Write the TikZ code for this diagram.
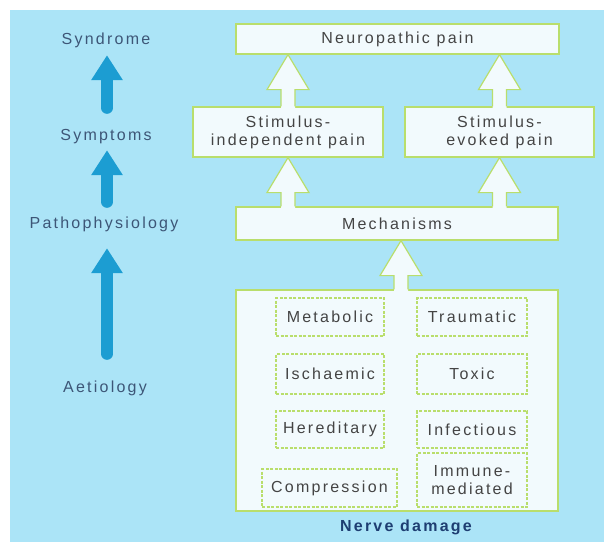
\documentclass[tikz,border=0pt]{standalone}
\usepackage{fontspec}
\setmainfont{Liberation Sans}[LetterSpace=14]
\usetikzlibrary{arrows.meta,calc}
\definecolor{bgblue}{HTML}{ABE4F7}
\definecolor{boxfill}{HTML}{F2FAFD}
\definecolor{boxline}{HTML}{B9DE6C}
\definecolor{arrblue}{HTML}{1C9DD2}
\definecolor{labcol}{HTML}{3D5677}
\definecolor{txtcol}{HTML}{444444}
\definecolor{navy}{HTML}{1E3E72}
\newcommand\harrow[2]{%
  \fill[boxfill] let \p1=#1, \p2=#2 in
    (\x1-7pt,\y1-1.5pt) -- (\x1-7pt,\y2-35pt) -- (\x1-21pt,\y2-35pt) -- (\x1,\y2) --
    (\x1+21pt,\y2-35pt) -- (\x1+7pt,\y2-35pt) -- (\x1+7pt,\y1-1.5pt) -- cycle;
  \draw[hollowline] let \p1=#1, \p2=#2 in
    (\x1-7pt,\y1) -- (\x1-7pt,\y2-35pt) -- (\x1-21pt,\y2-35pt) -- (\x1,\y2) --
    (\x1+21pt,\y2-35pt) -- (\x1+7pt,\y2-35pt) -- (\x1+7pt,\y1);}
\begin{document}
\begin{tikzpicture}[x=1pt,y=-1pt,
  every node/.style={font=\fontsize{16}{18}\selectfont, inner sep=0pt},
  outerbox/.style={draw=boxline, line width=1.2pt, fill=boxfill, text=txtcol, align=center},
  innerbox/.style={draw=boxline, line width=1.2pt, dash pattern=on 3pt off 1.5pt, fill=boxfill, text=txtcol, align=center},
  leftlab/.style={text=labcol, minimum height=20pt},
  bluearr/.style={draw=arrblue, line width=12pt, line cap=round, -{Triangle[width=30pt,length=25pt]}},
  hollowline/.style={draw=boxline, line width=1.2pt, line join=miter}]
\useasboundingbox (0,0) rectangle (604,542);
\fill[bgblue] (10,10) rectangle (604,542);

% left labels
\node[leftlab] (synd) at (106,40) {Syndrome};
\node[leftlab] (symp) at (106,137) {Symptoms};
\node[leftlab] (patho) at (104,224) {Pathophysiology};
\node[leftlab] (aet) at (105,388) {Aetiology};

\draw[bluearr, shorten <=19pt, shorten >=5pt] (symp.north -| 107,0) -- (synd.south -| 107,0);
\draw[bluearr, shorten <=12pt, shorten >=3pt] (patho.north -| 107,0) -- (symp.south -| 107,0);
\draw[bluearr, shorten <=24pt, shorten >=14pt] (aet.north -| 107,0) -- (patho.south -| 107,0);

% right boxes
\node[outerbox, minimum width=323pt, minimum height=30pt] (neuro) at (397.5,39) {Neuropathic pain};
\node[outerbox, minimum width=190pt, minimum height=50pt] (stimI) at (288,132) {Stimulus-\\independent pain};
\node[outerbox, minimum width=189pt, minimum height=50pt] (stimE) at (499.5,132) {Stimulus-\\evoked pain};
\node[outerbox, minimum width=322pt, minimum height=33pt] (mech) at (397,223.5) {Mechanisms};
\node[outerbox, minimum width=322pt, minimum height=221pt] (nerve) at (397,400.5) {};
\node[text=navy, font=\fontsize{16}{18}\selectfont\bfseries] (nlab) at (406,527) {Nerve damage};

\node[innerbox, minimum width=108pt, minimum height=38pt] (metab) at (330,317) {Metabolic};
\node[innerbox, minimum width=110pt, minimum height=38pt] (traum) at (472,317) {Traumatic};
\node[innerbox, minimum width=108pt, minimum height=40pt] (isch) at (330,374) {Ischaemic};
\node[innerbox, minimum width=110pt, minimum height=40pt] (toxic) at (472,374) {Toxic};
\node[innerbox, minimum width=108pt, minimum height=37pt] (hered) at (330,429.5) {Hereditary};
\node[innerbox, minimum width=110pt, minimum height=37pt] (infect) at (472,429.5) {Infectious};
\node[innerbox, minimum width=135pt, minimum height=38pt] (compr) at (329.5,488) {Compression};
\node[innerbox, minimum width=110pt, minimum height=54pt] (immune) at (472,480) {Immune-\\mediated};

% hollow arrows
\harrow{(stimI.north)}{(stimI.north |- neuro.south)}
\harrow{(stimE.north)}{(stimE.north |- neuro.south)}
\harrow{(mech.north -| stimI.north)}{(stimI.south)}
\harrow{(mech.north -| stimE.north)}{(stimE.south)}
\harrow{($(nerve.north)+(4,0)$)}{($(mech.south)+(4,0)$)}
\end{tikzpicture}
\end{document}
